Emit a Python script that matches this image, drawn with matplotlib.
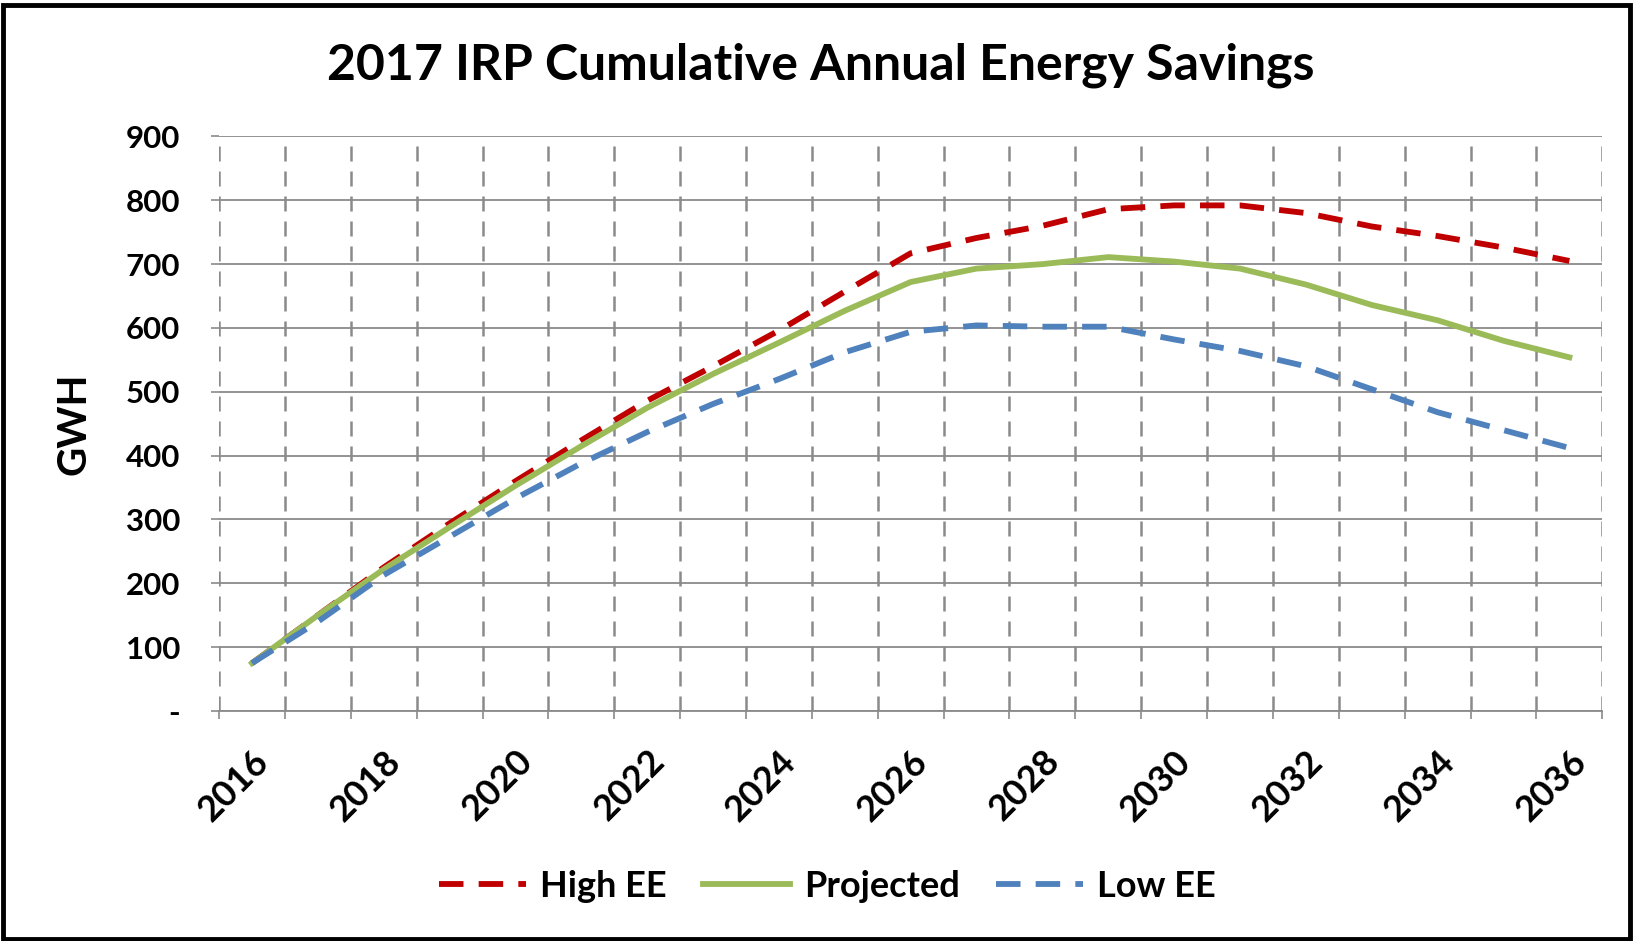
import matplotlib.pyplot as plt
from matplotlib.patches import Rectangle
import numpy as np

# -------- Datos -------- #
years = list(range(2016, 2037))
high_ee = [75, 150, 225, 294, 360, 424, 486, 540, 596, 657, 717, 741, 760, 786, 792, 792, 780, 759, 744, 726, 705]
projected = [75, 150, 222, 288, 353, 415, 475, 528, 577, 627, 672, 693, 700, 711, 704, 693, 668, 636, 612, 580, 554]
low_ee = [75, 140, 213, 273, 333, 388, 437, 481, 520, 562, 594, 604, 602, 602, 582, 564, 540, 504, 468, 440, 412]
y_ticks = [0, 100, 200, 300, 400, 500, 600, 700, 800, 900]
y_labels = ['-', '100', '200', '300', '400', '500', '600', '700', '800', '900']

plt.rcParams['font.family'] = ['Lato', 'DejaVu Sans']
plt.rcParams['font.weight'] = 'bold'

fig = plt.figure(figsize=(16.35, 9.41), dpi=100)
ax = fig.add_axes([0.134, 0.2444, 0.846, 0.6106])

x = np.arange(len(years))
grid_gray = '#8a8a8a'

# --- Lineas --- #
ax.plot(x, high_ee, color='#C00000', lw=4.2, dashes=(4.2, 2.6), label='High EE', zorder=3)
ax.plot(x, projected, color='#9BBB59', lw=4.2, label='Projected', zorder=3)
ax.plot(x, low_ee, color='#4F81BD', lw=4.2, dashes=(4.2, 2.6), label='Low EE', zorder=3)

# --- Ejes --- #
ax.set_xlim(-0.5, len(years) - 0.5)
ax.set_ylim(0, 900)
ax.set_yticks(y_ticks)
ax.set_yticklabels(y_labels, fontsize=22.5, fontweight='bold')
ax.set_xticks(x[::2])
ax.set_xticklabels([str(y) for y in years[::2]], fontsize=26, fontweight='bold',
                   rotation=45, ha='right', va='top', rotation_mode='anchor')
ax.set_xticks(np.arange(-0.5, len(years)), minor=True)
ax.tick_params(axis='x', which='major', length=0, pad=24)
ax.tick_params(axis='x', which='minor', length=6, color=grid_gray, width=1.2)
ax.tick_params(axis='y', length=6, color=grid_gray, width=1.2, pad=22)

ax.grid(axis='y', which='major', color=grid_gray, lw=1.3)
ax.grid(axis='x', which='minor', color=grid_gray, lw=1.8, dashes=(6, 4))
ax.set_axisbelow(True)
for s in ['top', 'right', 'left']:
    ax.spines[s].set_visible(False)
ax.spines['bottom'].set_color(grid_gray)
ax.spines['bottom'].set_linewidth(1.3)

ax.set_ylabel('GWH', fontsize=29, fontweight='bold', labelpad=24)

fig.text(0.502, 0.931, '2017 IRP Cumulative Annual Energy Savings',
         ha='center', va='center', fontsize=36, fontweight='bold')

ax.legend(loc='center', bbox_to_anchor=(0.44, -0.305), ncol=3, frameon=False,
          fontsize=26, handlelength=2.4, columnspacing=1.0, handletextpad=0.4)

# --- Borde --- #
fig.patches.append(Rectangle((0.002, 0.002), 0.995, 0.993, transform=fig.transFigure,
                             fill=False, ec='black', lw=3.5))

fig.savefig('out.png', dpi=100)
